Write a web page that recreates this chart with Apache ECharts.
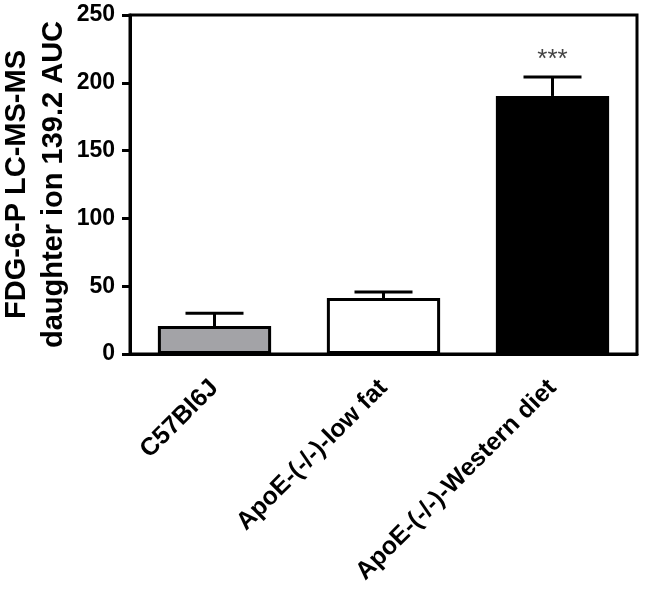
<!DOCTYPE html>
<html>
<head>
<meta charset="utf-8">
<script src="https://cdn.jsdelivr.net/npm/echarts@6/dist/echarts.min.js"></script>
<style>
  html, body { margin: 0; padding: 0; background: #fff; }
  #chart { width: 645px; height: 594px; }
</style>
</head>
<body>
<div id="chart"></div>
<script>
  // == 数据 ==
  const categories = ['C57Bl6J', 'ApoE-(-/-)-low fat', 'ApoE-(-/-)-Western diet'];
  const means = [20.6, 41.3, 190.3];
  const errors = [9.4, 4.4, 14.0];
  const sigLabels = ['', '', '***'];
  const barColors = ['#a3a3a7', '#ffffff', '#000000'];

  const chart = echarts.init(document.getElementById('chart'));

  const option = {
    animation: false,
    grid: {
      left: 130,
      right: 8,
      top: 15,
      bottom: 240,
      outerBoundsMode: 'none',
      containLabel: false,
      show: true,
      borderColor: '#000',
      borderWidth: 3,
    },
    xAxis: {
      type: 'category',
      data: categories,
      axisLine: { lineStyle: { color: '#000', width: 3 } },
      axisTick: { alignWithLabel: true, length: 8, lineStyle: { color: '#000', width: 3 } },
      axisLabel: {
        rotate: 45,
        margin: 30,
        fontFamily: 'Liberation Sans, Arial, sans-serif',
        fontSize: 25,
        fontWeight: 'bold',
        color: '#000',
      },
    },
    yAxis: {
      type: 'value',
      min: 0,
      max: 250,
      interval: 50,
      name: 'FDG-6-P LC-MS-MS\ndaughter ion 139.2 AUC',
      nameLocation: 'middle',
      nameRotate: 90,
      nameGap: 58,
      nameMoveOverlap: false,
      nameTextStyle: {
        fontFamily: 'Liberation Sans, Arial, sans-serif',
        fontSize: 29,
        fontWeight: 'bold',
        lineHeight: 37,
        color: '#000',
      },
      splitLine: { show: false },
      axisLine: { show: true, lineStyle: { color: '#000', width: 3 } },
      axisTick: { show: true, length: 8, lineStyle: { color: '#000', width: 3 } },
      axisLabel: {
        margin: 15,
        fontFamily: 'Liberation Sans, Arial, sans-serif',
        fontSize: 23,
        fontWeight: 'bold',
        color: '#000',
      },
    },
    series: [
      {
        type: 'bar',
        barWidth: '67%',
        data: means.map((v, i) => ({
          value: v,
          itemStyle: { color: barColors[i], borderColor: '#000', borderWidth: 3 },
        })),
        z: 2,
      },
      {
        type: 'custom',
        z: 3,
        data: means.map((v, i) => [i, v, v + errors[i]]),
        renderItem: function (params, api) {
          const idx = api.value(0);
          const low = api.coord([idx, api.value(1)]);
          const high = api.coord([idx, api.value(2)]);
          const half = 29;
          const style = { stroke: '#000', lineWidth: 3 };
          const children = [
            { type: 'line', shape: { x1: low[0], y1: low[1], x2: high[0], y2: high[1] }, style: style },
            { type: 'line', shape: { x1: high[0] - half, y1: high[1], x2: high[0] + half, y2: high[1] }, style: style },
          ];
          if (sigLabels[idx]) {
            children.push({
              type: 'text',
              x: high[0],
              y: high[1] - 4,
              style: {
                text: sigLabels[idx],
                fill: '#444',
                font: '26px Liberation Sans, Arial, sans-serif',
                align: 'center',
                verticalAlign: 'bottom',
              },
            });
          }
          return { type: 'group', children: children };
        },
      },
    ],
  };

  chart.setOption(option);
</script>
</body>
</html>
